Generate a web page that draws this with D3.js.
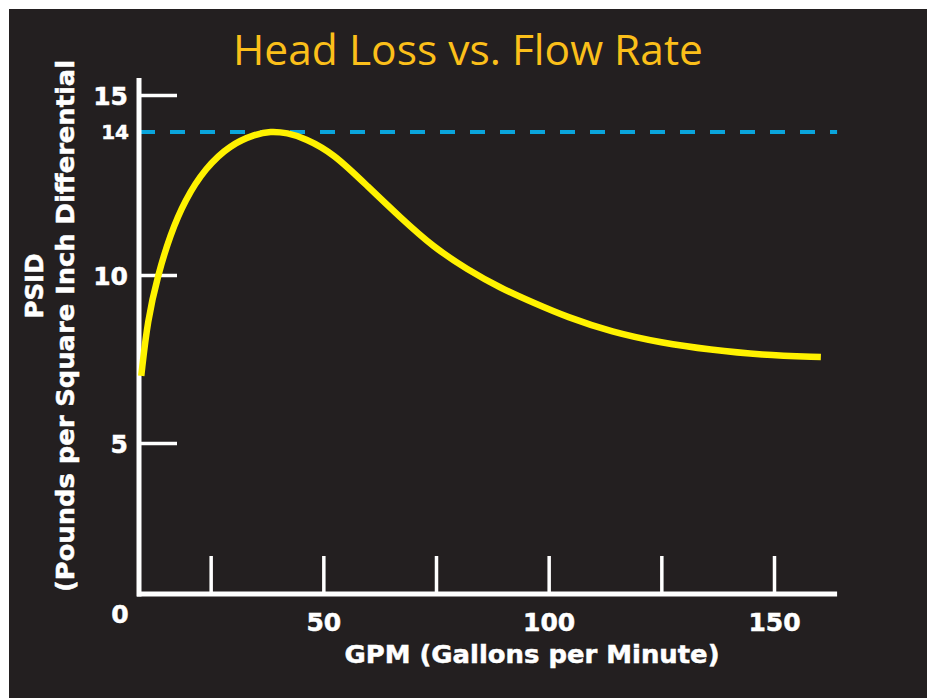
<!DOCTYPE html>
<html>
<head>
<meta charset="utf-8">
<script src="https://cdn.jsdelivr.net/npm/d3@7"></script>
<style>
  html, body { margin: 0; padding: 0; background: #ffffff; }
  svg { display: block; }
  .lbl { font-family: "DejaVu Sans", Arial, sans-serif; font-weight: bold; fill: #ffffff;
         stroke: #ffffff; stroke-width: 0.5px; paint-order: stroke; }
</style>
</head>
<body>
<figure id="chart" style="margin:0"></figure>
<script>
// curve
const gpm  = [9.6, 11, 13.3, 16, 19.3, 23.8, 29.3, 35, 38.2, 42, 46, 52.2, 60, 67, 74.4, 82, 89.3, 96.7, 104, 114, 125, 136, 147, 160.4];
const psid = [7.0, 8.66, 10, 11.12, 12.1, 12.99, 13.64, 13.94, 14.02, 13.98, 13.82, 13.41, 12.46, 11.62, 10.78, 10.15, 9.61, 9.17, 8.75, 8.3, 7.98, 7.77, 7.62, 7.56];

const xTicks = [25, 50, 75, 100, 125, 150];
const xTickLabels = [50, 100, 150];
const yTicks = [5, 10, 15];
const limitPsid = 14;

const titleText = "Head Loss vs. Flow Rate";
const xTitle = "GPM (Gallons per Minute)";
const yTitle1 = "PSID";
const yTitle2 = "(Pounds per Square Inch Differential";

const width = 927, height = 698;

const svg = d3.select("figure#chart")
  .append("svg")
  .attr("width", width)
  .attr("height", height);

svg.append("rect")
  .attr("x", 9).attr("y", 9)
  .attr("width", width - 9).attr("height", height - 9)
  .attr("fill", "#231f20");

// scales (the printed y axis is not quite even, so it is piecewise)
const x = d3.scaleLinear().domain([0, 150]).range([98, 774]);
const y = d3.scaleLinear().domain([0, 5, 10, 14, 15]).range([594, 443, 275, 132, 95]);

// title
svg.append("text")
  .attr("x", 468).attr("y", 65)
  .attr("text-anchor", "middle")
  .attr("textLength", 470)
  .attr("lengthAdjust", "spacingAndGlyphs")
  .attr("font-family", "'Open Sans', 'Noto Sans', sans-serif")
  .attr("font-size", 42)
  .attr("fill", "#fbbf1a")
  .text(titleText);

// dashed limit line
svg.append("line")
  .attr("x1", 140).attr("x2", x(164))
  .attr("y1", y(limitPsid)).attr("y2", y(limitPsid))
  .attr("stroke", "#0aa5dc")
  .attr("stroke-width", 4)
  .attr("stroke-dasharray", "15,15");

// x axis
svg.append("g")
  .attr("transform", `translate(0,${y(0)})`)
  .call(d3.axisBottom(x)
    .tickValues(xTicks)
    .tickSizeInner(-38)
    .tickSizeOuter(0)
    .tickPadding(19)
    .tickFormat(d => xTickLabels.includes(d) ? d : ""))
  .call(g => g.select(".domain").remove())
  .call(g => g.selectAll("line").attr("stroke", "#fff").attr("stroke-width", 3.5))
  .call(g => g.selectAll("text").attr("class", "lbl").attr("font-size", 25).attr("dy", "0.71em"));

// y axis
svg.append("g")
  .attr("transform", "translate(139,0)")
  .call(d3.axisLeft(y)
    .tickValues(yTicks)
    .tickSizeInner(-38)
    .tickSizeOuter(0)
    .tickPadding(11))
  .call(g => g.select(".domain").remove())
  .call(g => g.selectAll("line").attr("stroke", "#fff").attr("stroke-width", 3.5))
  .call(g => g.selectAll("text").attr("class", "lbl").attr("font-size", 25).attr("dy", "0.36em"));

// 14 label next to the dashed line
svg.append("text")
  .attr("class", "lbl")
  .attr("x", 129).attr("y", y(limitPsid))
  .attr("dy", "0.36em")
  .attr("text-anchor", "end")
  .attr("font-size", 20)
  .text(limitPsid);

// 0 in the corner
svg.append("text")
  .attr("class", "lbl")
  .attr("x", 120).attr("y", y(0) + 29)
  .attr("text-anchor", "middle")
  .attr("font-size", 25)
  .text(0);

// axis lines
svg.append("line")
  .attr("x1", 139).attr("x2", 139)
  .attr("y1", 78).attr("y2", y(0) + 2.5)
  .attr("stroke", "#fff").attr("stroke-width", 5);
svg.append("line")
  .attr("x1", 137).attr("x2", x(164))
  .attr("y1", y(0)).attr("y2", y(0))
  .attr("stroke", "#fff").attr("stroke-width", 5);

// the curve
svg.append("path")
  .datum(gpm.map((g, i) => [g, psid[i]]))
  .attr("fill", "none")
  .attr("stroke", "#fff200")
  .attr("stroke-width", 6.5)
  .attr("d", d3.line()
    .x(d => x(d[0]))
    .y(d => y(d[1]))
    .curve(d3.curveBasis));

// axis titles
svg.append("text")
  .attr("class", "lbl")
  .attr("x", 532).attr("y", 663)
  .attr("text-anchor", "middle")
  .attr("font-size", 25)
  .attr("textLength", 375)
  .attr("lengthAdjust", "spacingAndGlyphs")
  .text(xTitle);

const yt = svg.append("g").attr("transform", "translate(0,326) rotate(-90)");
yt.append("text")
  .attr("class", "lbl")
  .attr("x", 40).attr("y", 43)
  .attr("text-anchor", "middle")
  .attr("font-size", 25)
  .attr("textLength", 65)
  .attr("lengthAdjust", "spacingAndGlyphs")
  .text(yTitle1);
yt.append("text")
  .attr("class", "lbl")
  .attr("x", 0).attr("y", 74)
  .attr("text-anchor", "middle")
  .attr("font-size", 25)
  .attr("textLength", 532)
  .attr("lengthAdjust", "spacingAndGlyphs")
  .text(yTitle2);
</script>
</body>
</html>
